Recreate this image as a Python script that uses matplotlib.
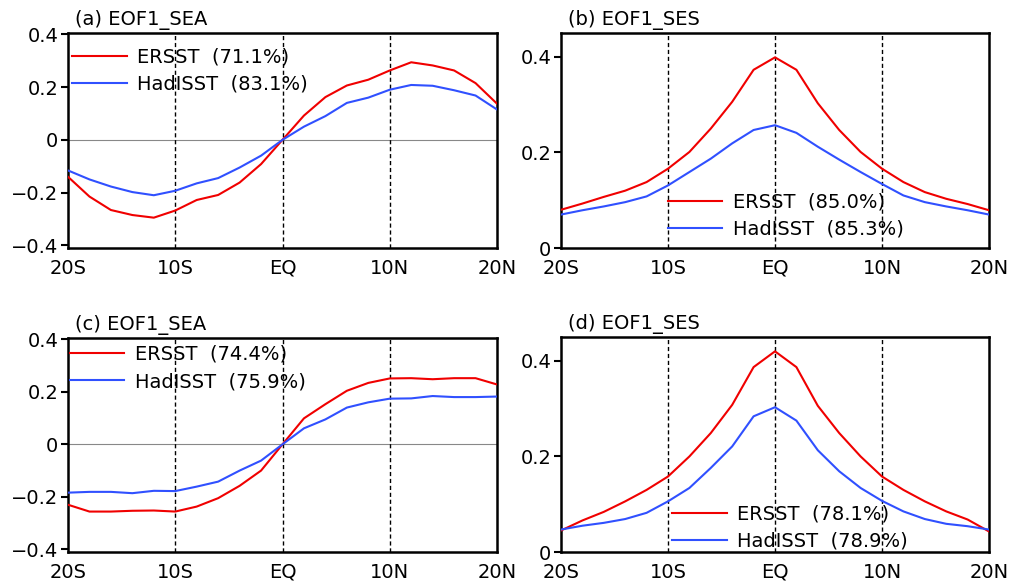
import matplotlib
matplotlib.use('Agg')
import matplotlib.pyplot as plt
import numpy as np

lat = np.arange(-20, 21, 2)

# (a) EOF1_SEA
sea1_er = [-0.14, -0.215, -0.266, -0.285, -0.295, -0.268, -0.228, -0.209, -0.162, -0.092, 0.0,
           0.092, 0.162, 0.206, 0.228, 0.263, 0.294, 0.282, 0.263, 0.215, 0.137]
sea1_had = [-0.116, -0.15, -0.177, -0.198, -0.21, -0.193, -0.165, -0.145, -0.105, -0.06, 0.0,
            0.05, 0.09, 0.14, 0.16, 0.19, 0.208, 0.205, 0.188, 0.168, 0.115]
# (b) EOF1_SES
ses1_er = [0.080, 0.093, 0.107, 0.120, 0.138, 0.166, 0.201, 0.250, 0.306, 0.373, 0.399,
           0.373, 0.303, 0.247, 0.201, 0.166, 0.138, 0.117, 0.103, 0.092, 0.079]
ses1_had = [0.070, 0.079, 0.087, 0.096, 0.108, 0.131, 0.159, 0.187, 0.219, 0.247, 0.257,
            0.241, 0.212, 0.185, 0.159, 0.134, 0.110, 0.096, 0.087, 0.079, 0.070]
# (c) EOF1_SEA
sea2_er = [-0.23, -0.256, -0.256, -0.253, -0.252, -0.256, -0.237, -0.205, -0.158, -0.10, 0.0,
           0.099, 0.153, 0.204, 0.234, 0.251, 0.252, 0.248, 0.252, 0.252, 0.228]
sea2_had = [-0.184, -0.181, -0.181, -0.186, -0.177, -0.178, -0.161, -0.142, -0.10, -0.062, 0.0,
            0.061, 0.095, 0.14, 0.16, 0.174, 0.175, 0.184, 0.18, 0.18, 0.182]
# (d) EOF1_SES
ses2_er = [0.045, 0.066, 0.084, 0.106, 0.130, 0.158, 0.200, 0.249, 0.308, 0.387, 0.420,
           0.387, 0.306, 0.249, 0.200, 0.158, 0.130, 0.106, 0.085, 0.068, 0.043]
ses2_had = [0.047, 0.055, 0.061, 0.069, 0.082, 0.106, 0.134, 0.176, 0.221, 0.284, 0.303,
            0.275, 0.213, 0.169, 0.134, 0.107, 0.085, 0.069, 0.059, 0.054, 0.047]

titles = ['(a) EOF1_SEA', '(b) EOF1_SES', '(c) EOF1_SEA', '(d) EOF1_SES']
pct_er = ['71.1%', '85.0%', '74.4%', '78.1%']
pct_had = ['83.1%', '85.3%', '75.9%', '78.9%']
xticks = [-20, -10, 0, 10, 20]
xlabels = ['20S', '10S', 'EQ', '10N', '20N']

red = '#f00000'
blue = '#3050ff'

fig = plt.figure(figsize=(10.12, 5.85), dpi=100)
W, H = 1012, 585
boxes = [(68, 33, 497, 248), (561, 33, 989, 248), (68, 338, 497, 552), (561, 337, 989, 552)]
data = [(sea1_er, sea1_had), (ses1_er, ses1_had), (sea2_er, sea2_had), (ses2_er, ses2_had)]
legpos = [(0.005, 0.941), (0.245, 0.267), (0.0, 0.978), (0.255, 0.23)]

for i, (l, t, r, b) in enumerate(boxes):
    ax = fig.add_axes([l / W, 1 - b / H, (r - l) / W, (b - t) / H])
    er, had = data[i]
    sym = i in (0, 2)
    if sym:
        ax.axhline(0, color='#888888', lw=0.8, zorder=1)
    for xv in (-10, 0, 10):
        ax.axvline(xv, color='black', lw=1.0, ls=(0, (3, 2)), zorder=1)
    ax.plot(lat, er, color=red, lw=1.5, label='ERSST  (%s)' % pct_er[i], zorder=3)
    ax.plot(lat, had, color=blue, lw=1.5, label='HadISST  (%s)' % pct_had[i], zorder=3)
    ax.set_xlim(-20, 20)
    if sym:
        ax.set_ylim(-0.41, 0.405)
        ax.set_yticks([-0.4, -0.2, 0, 0.2, 0.4])
        ax.set_yticklabels(['\u22120.4', '\u22120.2', '0', '0.2', '0.4'])
    else:
        ax.set_ylim(0, 0.45)
        ax.set_yticks([0, 0.2, 0.4])
        ax.set_yticklabels(['0', '0.2', '0.4'])
    ax.set_xticks(xticks)
    ax.set_xticklabels(xlabels)
    ax.tick_params(axis='x', length=0, labelsize=14, pad=18.5)
    for lab in ax.get_xticklabels():
        lab.set_va('baseline')
    ax.tick_params(axis='y', length=5, width=1.5, direction='out', labelsize=14, pad=2)
    for s in ax.spines.values():
        s.set_linewidth(1.8)
    ax.text(0.016, 1.012, titles[i], transform=ax.transAxes, fontsize=14,
            ha='left', va='bottom')
    ax.legend(loc='upper left', bbox_to_anchor=legpos[i], frameon=False, fontsize=14,
              handlelength=2.8, handletextpad=0.55, labelspacing=0.43, borderaxespad=0,
              borderpad=0.1)

fig.savefig('out.png', dpi=100)
